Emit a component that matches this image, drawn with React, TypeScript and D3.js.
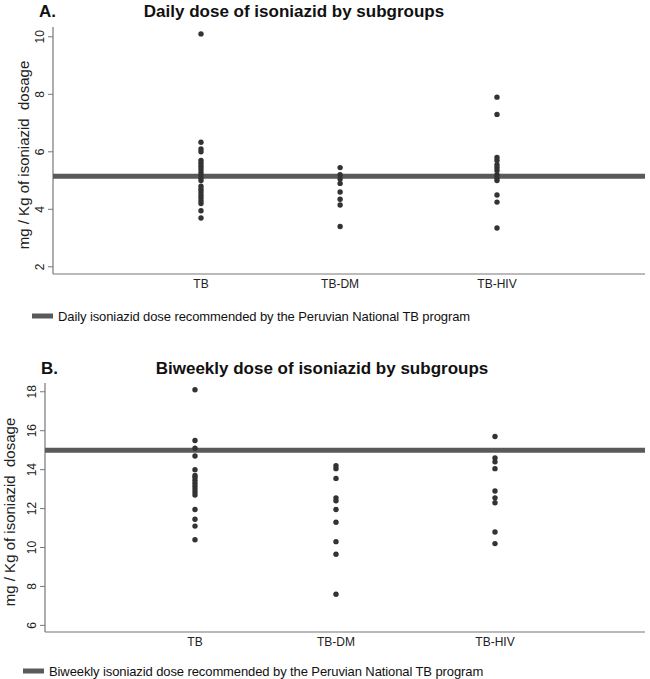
import React from "react";
import * as d3 from "d3";

const categories = ["TB", "TB-DM", "TB-HIV"];
const categoryPos = [1, 1.94, 3];

const dailyTB = [10.1, 6.33, 6.1, 6.0, 5.7, 5.6, 5.5, 5.4, 5.3, 5.2, 5.1, 5.0, 4.8, 4.7, 4.6, 4.5, 4.4, 4.3, 4.2, 3.95, 3.7];
const dailyDM = [5.45, 5.2, 5.05, 4.9, 4.6, 4.35, 4.15, 3.4];
const dailyHIV = [7.9, 7.3, 5.8, 5.7, 5.55, 5.45, 5.35, 5.2, 5.1, 5.0, 4.5, 4.25, 3.35];
const dailyRef = 5.15;
const dailyTicks = [2, 4, 6, 8, 10];

const biweeklyTB = [18.1, 15.5, 15.1, 14.7, 14.0, 13.7, 13.6, 13.45, 13.3, 13.15, 13.0, 12.85, 12.7, 11.95, 11.45, 11.1, 10.4];
const biweeklyDM = [14.2, 14.05, 13.55, 12.55, 12.4, 11.95, 11.3, 10.3, 9.65, 7.6];
const biweeklyHIV = [15.7, 14.6, 14.4, 14.05, 12.9, 12.55, 12.3, 10.8, 10.2];
const biweeklyRef = 15;
const biweeklyTicks = [6, 8, 10, 12, 14, 16, 18];

const FONT = "'Liberation Sans', Arial, sans-serif";
const DOT = "#333333";
const REF = "#5a5a5a";
const AXIS = "#777777";

type PanelProps = {
  letter: string;
  title: string;
  titleX: number;
  series: number[][];
  refValue: number;
  ticks: number[];
  yDomain: [number, number];
  top: number;
  bottom: number;
  left: number;
  right: number;
  labelX: number;
  labelY: number;
  legendY: number;
  legendSwatchX: number;
  legendText: string;
  titleY: number;
  letterX: number;
};

function Panel(p: PanelProps) {
  const x = d3.scaleLinear().domain([0, 4]).range([p.left, p.right]);
  const y = d3.scaleLinear().domain(p.yDomain).range([p.bottom, p.top]);
  return (
    <g>
      <text x={p.letterX} y={p.titleY} fontFamily={FONT} fontWeight="bold" fontSize={17} fill="#111">{p.letter}</text>
      <text x={p.titleX} y={p.titleY} textAnchor="middle" fontFamily={FONT} fontWeight="bold" fontSize={17} fill="#111">{p.title}</text>
      <line x1={p.left} x2={p.left} y1={p.top} y2={p.bottom} stroke={AXIS} strokeWidth={1.2} />
      <line x1={p.left} x2={p.right} y1={p.bottom} y2={p.bottom} stroke={AXIS} strokeWidth={1.2} />
      {p.ticks.map((t) => (
        <g key={t}>
          <line x1={p.left - 5} x2={p.left} y1={y(t)} y2={y(t)} stroke={AXIS} strokeWidth={1} />
          <text
            transform={`translate(${p.left - 9},${y(t)}) rotate(-90)`}
            textAnchor="middle"
            fontFamily={FONT}
            fontSize={12}
            fill="#222"
          >{t}</text>
        </g>
      ))}
      {categories.map((c, i) => (
        <text key={c} x={x(categoryPos[i])} y={p.bottom + 14} textAnchor="middle" fontFamily={FONT} fontSize={12} fill="#222">{c}</text>
      ))}
      <text
        transform={`translate(${p.labelX},${p.labelY}) rotate(-90)`}
        textAnchor="middle"
        fontFamily={FONT}
        fontSize={15}
        fill="#222"
        style={{ whiteSpace: "pre" }}
      >{"mg / Kg of isoniazid  dosage"}</text>
      <line x1={p.left} x2={p.right} y1={y(p.refValue)} y2={y(p.refValue)} stroke={REF} strokeWidth={5} />
      {p.series.map((vals, i) =>
        vals.map((v, j) => (
          <circle key={`${i}-${j}`} cx={x(categoryPos[i])} cy={y(v)} r={2.7} fill={DOT} />
        ))
      )}
      <rect x={p.legendSwatchX} y={p.legendY - 2.5} width={21} height={5} fill={REF} />
      <text x={p.legendSwatchX + 26} y={p.legendY + 4.5} fontFamily={FONT} fontSize={13} fill="#111" letterSpacing={-0.1}>{p.legendText}</text>
    </g>
  );
}

export default function App() {
  return (
    <svg width={650} height={679} style={{ position: "absolute", left: 0, top: 0, background: "#fff" }}>
      <rect width={650} height={679} fill="#fff" />
      <Panel
        letter="A."
        letterX={39}
        title="Daily dose of isoniazid by subgroups"
        titleX={294}
        titleY={17}
        series={[dailyTB, dailyDM, dailyHIV]}
        refValue={dailyRef}
        ticks={dailyTicks}
        yDomain={[1.75, 10.34]}
        top={27}
        bottom={274}
        left={53}
        right={645}
        labelX={29}
        labelY={155}
        legendY={316}
        legendSwatchX={32}
        legendText="Daily isoniazid dose recommended by the Peruvian National TB program"
      />
      <Panel
        letter="B."
        letterX={41}
        title="Biweekly dose of isoniazid by subgroups"
        titleX={322}
        titleY={374}
        series={[biweeklyTB, biweeklyDM, biweeklyHIV]}
        refValue={biweeklyRef}
        ticks={biweeklyTicks}
        yDomain={[5.66, 18.45]}
        top={383}
        bottom={632}
        left={45}
        right={645}
        labelX={15}
        labelY={512}
        legendY={671}
        legendSwatchX={23}
        legendText="Biweekly isoniazid dose recommended by the Peruvian National TB program"
      />
    </svg>
  );
}
